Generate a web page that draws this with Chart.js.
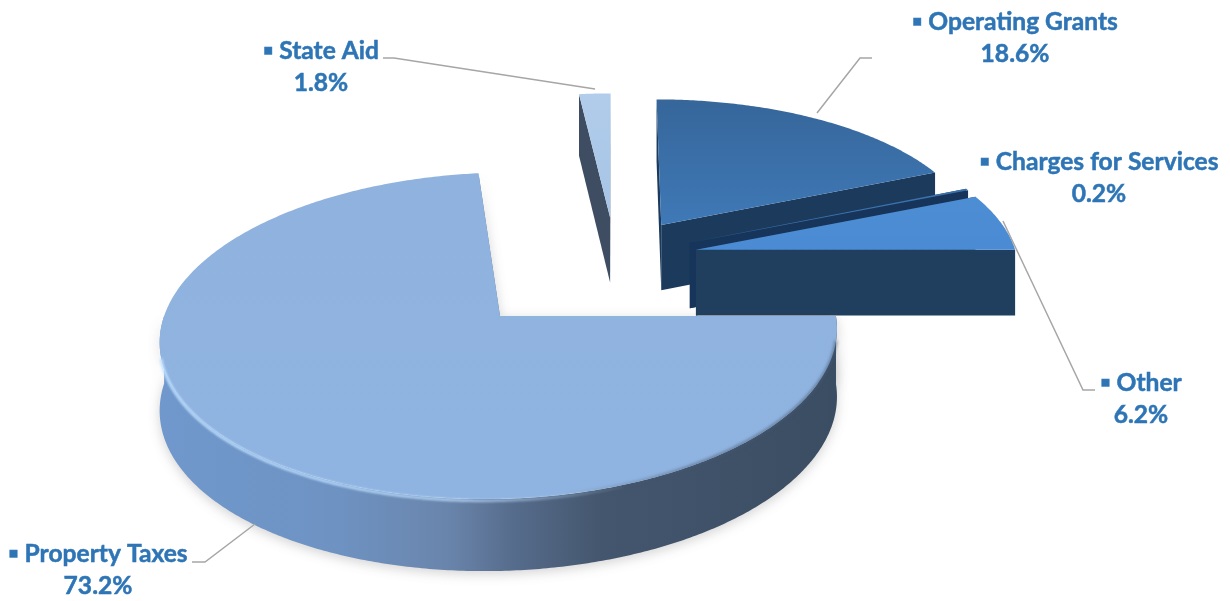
<!DOCTYPE html>
<html>
<head>
<meta charset="utf-8">
<title>Revenue by source</title>
<script src="https://cdn.jsdelivr.net/npm/chart.js@4"></script>
<style>
  html, body { margin: 0; padding: 0; background: #fff; }
  canvas { display: block; }
</style>
</head>
<body>
<canvas id="pie" width="1230" height="601"></canvas>
<script>
const categories = ['Property Taxes', 'State Aid', 'Operating Grants', 'Charges for Services', 'Other'];
const shares = [73.2, 1.8, 18.6, 0.2, 6.2];
const explode = [165, 89, 86, 82, 83];

const faceColors = ['#90b4e1', '#a6c3e6', '#3f79b7', '#3a72ad', '#4a8bd3'];
const faceTopColors = ['#8fb2de', '#b2cdeb', '#36669a', '#3a72ad', '#4d8dd4'];
const wallColors = [null, '#3e4d62', '#1b3a5c', '#17355a', '#203f5f'];

// label centre x, first baseline, and the leader polyline per slice
const labelX = [98, 321, 1015, 1099, 1141];
const labelY = [562, 59, 30, 170, 391];
const leaders = [
  [[192, 562], [205, 562], [255, 524]],
  [[383, 58], [394, 58], [595, 89]],
  [[872, 58], [860, 58], [817, 113]],
  [],
  [[1003, 221], [1083, 390], [1095, 390]]
];

// the pie lies on a tilted plane seen in perspective
const TILT = 0.458, PERSP = 0.00036, DEPTH = 66;

function project(arc, x, y, drop) {
  const w = 1 - PERSP * y;
  return [arc.x + x / w, arc.y + TILT * y / w + drop / Math.sqrt(w)];
}

function rimPoints(arc, from, to, drop) {
  const mid = (arc.startAngle + arc.endAngle) / 2;
  const off = arc.options.offset;
  const ox = Math.cos(mid) * off, oy = Math.sin(mid) * off;
  const n = Math.max(2, Math.ceil((to - from) / 0.01));
  const pts = [];
  for (let i = 0; i <= n; i++) {
    const a = from + (to - from) * i / n;
    pts.push(project(arc, ox + Math.cos(a) * arc.outerRadius, oy + Math.sin(a) * arc.outerRadius, drop));
  }
  return pts;
}

function apexPoint(arc, drop) {
  const mid = (arc.startAngle + arc.endAngle) / 2;
  const off = arc.options.offset;
  return project(arc, Math.cos(mid) * off, Math.sin(mid) * off, drop);
}

function fillPoly(ctx, pts) {
  ctx.beginPath();
  pts.forEach((p, i) => i ? ctx.lineTo(p[0], p[1]) : ctx.moveTo(p[0], p[1]));
  ctx.closePath();
  ctx.fill();
}

function drawWalls(ctx, arc, i) {
  const s = arc.startAngle, e = arc.endAngle;
  let fill = wallColors[i];
  if (i === 0) {
    fill = ctx.createLinearGradient(163, 0, 838, 0);
    fill.addColorStop(0, '#7098cc');
    fill.addColorStop(0.25, '#6e93c3');
    fill.addColorStop(0.42, '#6a85ac');
    fill.addColorStop(0.52, '#566c8c');
    fill.addColorStop(0.65, '#44566d');
    fill.addColorStop(1, '#3a4d63');
  }
  ctx.save();
  ctx.fillStyle = fill;
  if (i === 0) {
    ctx.shadowColor = 'rgba(60,50,50,0.22)';
    ctx.shadowBlur = 12;
    ctx.shadowOffsetY = 3;
  }
  // radial cut faces
  [s, e].forEach(a => {
    const r = rimPoints(arc, a, a, 0)[0], rd = rimPoints(arc, a, a, DEPTH)[0];
    fillPoly(ctx, [apexPoint(arc, 0), r, rd, apexPoint(arc, DEPTH)]);
  });
  // outer wall, only the part that faces the viewer
  const from = Math.max(s, 0), to = Math.min(e, Math.PI);
  if (to > from) {
    fillPoly(ctx, rimPoints(arc, from, to, 0).concat(rimPoints(arc, from, to, DEPTH).reverse()));
  }
  ctx.restore();
}

function drawFace(ctx, arc, i) {
  const pts = [apexPoint(arc, 0)].concat(rimPoints(arc, arc.startAngle, arc.endAngle, 0));
  const ys = pts.map(p => p[1]);
  const g = ctx.createLinearGradient(0, Math.min(...ys), 0, Math.max(...ys));
  g.addColorStop(0, faceTopColors[i]);
  g.addColorStop(1, arc.options.backgroundColor);
  ctx.fillStyle = g;
  fillPoly(ctx, pts);
}

function strokeRim(ctx, pts, style, width, blur) {
  ctx.save();
  ctx.filter = 'blur(' + blur + 'px)';
  ctx.strokeStyle = style;
  ctx.lineWidth = width;
  ctx.beginPath();
  pts.forEach((p, k) => k ? ctx.lineTo(p[0], p[1]) : ctx.moveTo(p[0], p[1]));
  ctx.stroke();
  ctx.restore();
}

// bright bevel along the front edge of the big slice, soft shade on its dark end
function drawBevel(ctx, arc) {
  const g = ctx.createLinearGradient(163, 0, 640, 0);
  g.addColorStop(0, 'rgba(190,224,255,0.95)');
  g.addColorStop(0.6, 'rgba(190,224,255,0.75)');
  g.addColorStop(1, 'rgba(190,224,255,0)');
  strokeRim(ctx, rimPoints(arc, 1.2, Math.PI - 0.25, 1.5), g, 3, 1.2);
  const d = ctx.createLinearGradient(560, 0, 700, 0);
  d.addColorStop(0, 'rgba(70,90,115,0)');
  d.addColorStop(1, 'rgba(70,90,115,0.6)');
  strokeRim(ctx, rimPoints(arc, 0.15, 1.35, 0), d, 3, 1.5);
}

const tiltedPie = {
  id: 'tiltedPie',
  beforeDatasetDraw(chart, args) {
    const ctx = chart.ctx;
    const arcs = args.meta.data;
    [1, 2, 3, 4, 0].forEach(i => {
      drawWalls(ctx, arcs[i], i);
      drawFace(ctx, arcs[i], i);
    });
    drawBevel(ctx, arcs[0]);
    return false; // replaces the flat arcs
  },
  afterDraw(chart) {
    const ctx = chart.ctx;
    ctx.save();
    ctx.strokeStyle = '#a6a6a6';
    ctx.lineWidth = 1.5;
    leaders.forEach(line => {
      ctx.beginPath();
      line.forEach((p, k) => k ? ctx.lineTo(p[0], p[1]) : ctx.moveTo(p[0], p[1]));
      ctx.stroke();
    });
    ctx.fillStyle = '#2e75b6';
    ctx.strokeStyle = '#2e75b6';
    ctx.lineWidth = 0.5;
    ctx.font = 'bold 24.6px Lato';
    ctx.textAlign = 'center';
    ctx.textBaseline = 'alphabetic';
    categories.forEach((name, i) => {
      const pct = shares[i].toFixed(1) + '%';
      ctx.fillText('▪ ' + name, labelX[i], labelY[i]);
      ctx.strokeText('▪ ' + name, labelX[i], labelY[i]);
      ctx.fillText(pct, labelX[i], labelY[i] + 32);
      ctx.strokeText(pct, labelX[i], labelY[i] + 32);
    });
    ctx.restore();
  }
};

new Chart(document.getElementById('pie'), {
  type: 'pie',
  data: {
    labels: categories,
    datasets: [{
      data: shares,
      backgroundColor: faceColors,
      offset: explode,
      borderWidth: 0
    }]
  },
  options: {
    responsive: false,
    animation: false,
    rotation: 90,
    radius: 321,
    layout: { padding: { bottom: 87 } },
    plugins: { legend: { display: false }, tooltip: { enabled: false } }
  },
  plugins: [tiltedPie]
});
</script>
</body>
</html>
